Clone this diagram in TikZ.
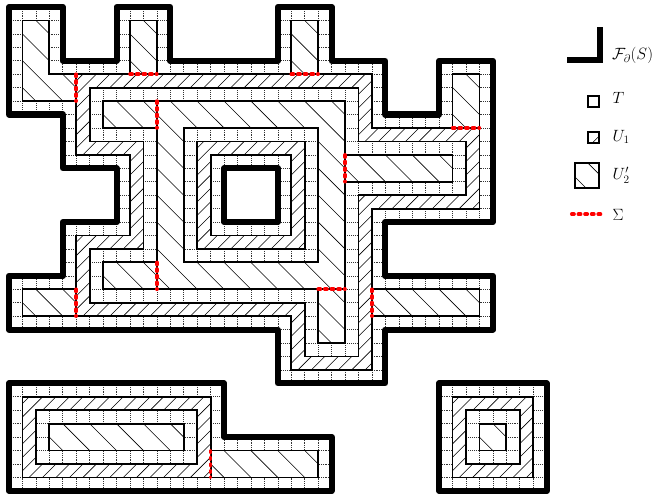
\documentclass[tikz,border=0pt]{standalone}
\usepackage{amsmath}
\begin{document}
\begin{tikzpicture}[x=0.5cm,y=-0.5cm,
  boundary/.style={line width=6.4pt,line join=round,line cap=round,black},
  region/.style={line width=1.9pt,black,line join=miter},
  hatch/.style={line width=0.6pt,black},
  griddot/.style={line width=0.6pt,black!80,dash pattern=on 1pt off 1pt},
  sigma/.style={red,line width=3.8pt,dash pattern=on 2.4pt off 4.6pt,line cap=round},
  legbox/.style={line width=2.2pt,black},
  leglabel/.style={anchor=base west,inner sep=0pt,font=\fontsize{18}{20}\selectfont}]

\useasboundingbox (-0.67,-0.52) rectangle (48.36,36.46);

\def\mainout{(0,0) -- (4,0) -- (4,4) -- (8,4) -- (8,0) -- (12,0) -- (12,4) -- (20,4) -- (20,0) -- (24,0) -- (24,4) -- (28,4) -- (28,8) -- (32,8) -- (32,4) -- (36,4) -- (36,16) -- (28,16) -- (28,20) -- (36,20) -- (36,24) -- (28,24) -- (28,28) -- (20,28) -- (20,24) -- (0,24) -- (0,20) -- (4,20) -- (4,16) -- (8,16) -- (8,12) -- (4,12) -- (4,8) -- (0,8) -- cycle}
\def\mainhole{(16,12) -- (16,16) -- (20,16) -- (20,12) -- cycle}
\def\blout{(0,28) -- (16,28) -- (16,32) -- (24,32) -- (24,36) -- (0,36) -- cycle}
\def\brout{(32,28) -- (40,28) -- (40,36) -- (32,36) -- cycle}

% dotted grid in the cells
\begin{scope}
  \clip \mainout \mainhole \blout \brout;
  \foreach \i in {0,...,40} {\draw[griddot] (\i,0) -- (\i,36);}
  \foreach \j in {0,...,36} {\draw[griddot] (0,\j) -- (40,\j);}
\end{scope}

\newcommand{\regOne}[1]{%
  \fill[white] #1;
  \begin{scope}
    \clip #1;
    \foreach \c in {9.5,10.5,...,79.5} {\draw[hatch] (\c+1,-1) -- (\c-40,40);}
  \end{scope}
  \draw[region] #1;}
\newcommand{\regTwo}[1]{%
  \fill[white] #1;
  \begin{scope}
    \clip #1;
    \foreach \c in {-41,-39,...,41} {\draw[hatch] (\c-1,-1) -- (\c+41,41);}
  \end{scope}
  \draw[region] #1;}

% U1 regions
\regOne{(5,5) -- (27,5) -- (27,9) -- (35,9) -- (35,15) -- (27,15) -- (27,27) -- (21,27) -- (21,23) -- (5,23) -- (5,17) -- (9,17) -- (9,11) -- (5,11) -- cycle
  (6,6) -- (6,10) -- (10,10) -- (10,18) -- (6,18) -- (6,22) -- (22,22) -- (22,26) -- (26,26) -- (26,14) -- (34,14) -- (34,10) -- (26,10) -- (26,6) -- cycle}
\regOne{(14,10) -- (22,10) -- (22,18) -- (14,18) -- cycle (15,11) -- (15,17) -- (21,17) -- (21,11) -- cycle}
\regOne{(1,29) -- (15,29) -- (15,35) -- (1,35) -- cycle (2,30) -- (2,34) -- (14,34) -- (14,30) -- cycle}
\regOne{(33,29) -- (39,29) -- (39,35) -- (33,35) -- cycle (34,30) -- (34,34) -- (38,34) -- (38,30) -- cycle}

% U2' regions
\regTwo{(11,7) -- (25,7) -- (25,21) -- (11,21) -- cycle (13,9) -- (13,19) -- (23,19) -- (23,9) -- cycle}
\regTwo{(1,1) -- (3,1) -- (3,5) -- (5,5) -- (5,7) -- (1,7) -- cycle}
\regTwo{(9,1) -- (11,1) -- (11,5) -- (9,5) -- cycle}
\regTwo{(21,1) -- (23,1) -- (23,5) -- (21,5) -- cycle}
\regTwo{(33,5) -- (35,5) -- (35,9) -- (33,9) -- cycle}
\regTwo{(1,21) -- (5,21) -- (5,23) -- (1,23) -- cycle}
\regTwo{(27,21) -- (35,21) -- (35,23) -- (27,23) -- cycle}
\regTwo{(25,11) -- (33,11) -- (33,13) -- (25,13) -- cycle}
\regTwo{(7,7) -- (11,7) -- (11,9) -- (7,9) -- cycle}
\regTwo{(7,19) -- (11,19) -- (11,21) -- (7,21) -- cycle}
\regTwo{(23,21) -- (25,21) -- (25,25) -- (23,25) -- cycle}
\regTwo{(3,31) -- (13,31) -- (13,33) -- (3,33) -- cycle}
\regTwo{(15,33) -- (23,33) -- (23,35) -- (15,35) -- cycle}
\regTwo{(35,31) -- (37,31) -- (37,33) -- (35,33) -- cycle}

% Sigma
\draw[sigma] (5,5) -- (5,7);
\draw[sigma] (9,5) -- (11,5);
\draw[sigma] (21,5) -- (23,5);
\draw[sigma] (33,9) -- (35,9);
\draw[sigma] (11,7) -- (11,9);
\draw[sigma] (25,11) -- (25,13);
\draw[sigma] (11,19) -- (11,21);
\draw[sigma] (5,21) -- (5,23);
\draw[sigma] (23,21) -- (25,21);
\draw[sigma] (27,21) -- (27,23);
\draw[sigma] (15,33) -- (15,35);

% boundary
\draw[boundary] \mainout;
\draw[boundary] \mainhole;
\draw[boundary] \blout;
\draw[boundary] \brout;

% legend
\coordinate (lgA) at (41.52,3.94);
\coordinate (lgB) at (43.97,3.94);
\coordinate (lgC) at (43.97,1.49);
\draw[boundary,line cap=butt,line join=miter] (lgA) -- (lgB) -- (lgC);
\node[leglabel] (lF) at (44.85,3.94) {$\mathcal{F}_\partial(S)$};

\draw[legbox] (43.08,6.61) rectangle (43.88,7.41);
\node[leglabel] (lT) at (44.9,7.2) {$T$};

\begin{scope}
  \clip (43.08,9.33) rectangle (43.88,10.13);
  \draw[hatch] (44.31,9.2) -- (43.21,10.3);
\end{scope}
\draw[legbox] (43.08,9.33) rectangle (43.88,10.13);
\node[leglabel] (lU) at (44.9,10.0) {$U_1$};

\begin{scope}
  \clip (42.1,11.64) rectangle (43.9,13.44);
  \draw[hatch] (42.96,11.5) -- (44.96,13.5);
  \draw[hatch] (40.96,11.5) -- (42.96,13.5);
\end{scope}
\draw[legbox] (42.1,11.64) rectangle (43.9,13.44);
\node[leglabel] (lV) at (44.9,12.85) {$U_2'$};

\draw[sigma] (41.87,15.42) -- (44.1,15.42);
\node[leglabel] (lS) at (44.9,15.9) {$\Sigma$};
\end{tikzpicture}
\end{document}
